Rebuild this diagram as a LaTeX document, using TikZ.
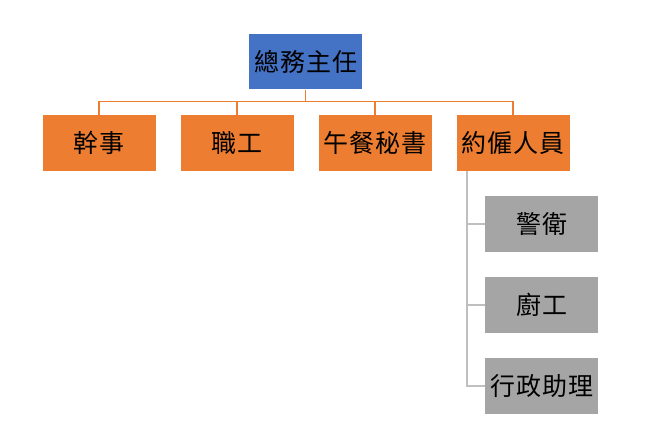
\documentclass[tikz,border=0pt]{standalone}
\usepackage{fontspec}
\newfontfamily\cjk[LetterSpace=4]{Noto Sans CJK TC}
\definecolor{cblue}{HTML}{4472C4}
\definecolor{corange}{HTML}{ED7D31}
\definecolor{cgray}{HTML}{A5A5A5}
\definecolor{clgray}{HTML}{BFBFBF}
\tikzset{
  box/.style={draw=none, minimum width=113pt, minimum height=56pt, inner sep=0pt, font=\cjk\fontsize{25}{25}\selectfont, text=black},
  rootbox/.style={box, fill=cblue, minimum height=55pt},
  lvlbox/.style={box, fill=corange},
  subbox/.style={box, fill=cgray, minimum width=113pt},
  oline/.style={draw=corange, line width=1.3pt},
  gline/.style={draw=clgray, line width=1.5pt},
}
\begin{document}
\begin{tikzpicture}[x=1pt,y=-1pt]
\useasboundingbox (0,0) rectangle (660,433);
\node[rootbox] (root) at (305.5,62) {總務主任};
\node[lvlbox] (a) at (99,143) {幹事};
\node[lvlbox] (b) at (237,143) {職工};
\node[lvlbox] (c) at (375,143) {午餐秘書};
\node[lvlbox] (d) at (513,143) {約僱人員};
\node[subbox] (s1) at (541.5,224) {警衛};
\node[subbox] (s2) at (541.5,305) {廚工};
\node[subbox] (s3) at (541.5,386) {行政助理};
\coordinate (j) at (305.5,101.5);
\draw[oline] (root.south) -- (j);
\draw[oline] (a.north) |- (j);
\draw[oline] (b.north) |- (j);
\draw[oline] (c.north) |- (j);
\draw[oline] (d.north) |- (j);
\coordinate (v) at (467,0);
\draw[gline] (d.south -| v) |- (s3.west);
\draw[gline] (s1.west) -- (s1.west -| v);
\draw[gline] (s2.west) -- (s2.west -| v);
\end{tikzpicture}
\end{document}
